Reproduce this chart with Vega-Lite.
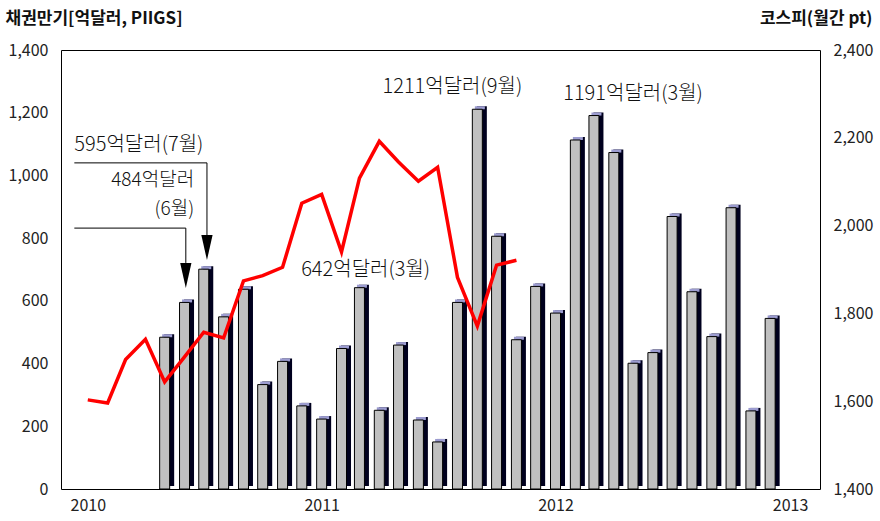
{
  "$schema": "https://vega.github.io/schema/vega-lite/v6.json",
  "autosize": {"type": "none"},
  "width": 759,
  "height": 439,
  "padding": {"left": 61, "top": 50, "right": 60, "bottom": 32},
  "background": "white",
  "config": {
    "view": {"stroke": "black", "strokeWidth": 1},
    "font": "Noto Sans CJK KR",
    "axis": {"grid": false, "ticks": false, "domain": false, "labelFont": "Noto Sans CJK KR", "labelColor": "#222", "titleFont": "Noto Sans CJK KR"}
  },
  "datasets": {
    "bonds": [
      {"month": "2010-05-01", "bond": 484}, {"month": "2010-06-01", "bond": 595}, {"month": "2010-07-01", "bond": 701},
      {"month": "2010-08-01", "bond": 549}, {"month": "2010-09-01", "bond": 637}, {"month": "2010-10-01", "bond": 333},
      {"month": "2010-11-01", "bond": 407}, {"month": "2010-12-01", "bond": 265}, {"month": "2011-01-01", "bond": 223},
      {"month": "2011-02-01", "bond": 448}, {"month": "2011-03-01", "bond": 642}, {"month": "2011-04-01", "bond": 251},
      {"month": "2011-05-01", "bond": 459}, {"month": "2011-06-01", "bond": 220}, {"month": "2011-07-01", "bond": 150},
      {"month": "2011-08-01", "bond": 595}, {"month": "2011-09-01", "bond": 1211}, {"month": "2011-10-01", "bond": 806},
      {"month": "2011-11-01", "bond": 476}, {"month": "2011-12-01", "bond": 646}, {"month": "2012-01-01", "bond": 561},
      {"month": "2012-02-01", "bond": 1113}, {"month": "2012-03-01", "bond": 1191}, {"month": "2012-04-01", "bond": 1073},
      {"month": "2012-05-01", "bond": 401}, {"month": "2012-06-01", "bond": 435}, {"month": "2012-07-01", "bond": 869},
      {"month": "2012-08-01", "bond": 629}, {"month": "2012-09-01", "bond": 486}, {"month": "2012-10-01", "bond": 897},
      {"month": "2012-11-01", "bond": 249}, {"month": "2012-12-01", "bond": 544}
    ],
    "kospi": [
      {"month": "2010-01-01", "kospi": 1603}, {"month": "2010-02-01", "kospi": 1596}, {"month": "2010-03-01", "kospi": 1695},
      {"month": "2010-04-01", "kospi": 1741}, {"month": "2010-05-01", "kospi": 1644}, {"month": "2010-06-01", "kospi": 1701},
      {"month": "2010-07-01", "kospi": 1757}, {"month": "2010-08-01", "kospi": 1744}, {"month": "2010-09-01", "kospi": 1874},
      {"month": "2010-10-01", "kospi": 1886}, {"month": "2010-11-01", "kospi": 1905}, {"month": "2010-12-01", "kospi": 2051},
      {"month": "2011-01-01", "kospi": 2071}, {"month": "2011-02-01", "kospi": 1940}, {"month": "2011-03-01", "kospi": 2108},
      {"month": "2011-04-01", "kospi": 2192}, {"month": "2011-05-01", "kospi": 2145}, {"month": "2011-06-01", "kospi": 2101},
      {"month": "2011-07-01", "kospi": 2133}, {"month": "2011-08-01", "kospi": 1882}, {"month": "2011-09-01", "kospi": 1771},
      {"month": "2011-10-01", "kospi": 1910}, {"month": "2011-11-01", "kospi": 1921}
    ],
    "notes": [
      {"label": "595억달러(7월)", "month": "2009-12-11", "level": 1097, "align": "left"},
      {"label": "484억달러", "month": "2010-06-16", "level": 987, "align": "right"},
      {"label": "(6월)", "month": "2010-06-16", "level": 893, "align": "right"},
      {"label": "642억달러(3월)", "month": "2010-11-30", "level": 698, "align": "left"},
      {"label": "1211억달러(9월)", "month": "2011-04-06", "level": 1283, "align": "left"},
      {"label": "1191억달러(3월)", "month": "2012-01-13", "level": 1261, "align": "left"}
    ],
    "leaders": [
      {"note": "595", "step": 0, "month": "2009-12-11", "level": 1040},
      {"note": "595", "step": 1, "month": "2010-07-06", "level": 1040},
      {"note": "595", "step": 2, "month": "2010-07-06", "level": 810},
      {"note": "484", "step": 0, "month": "2009-12-11", "level": 832},
      {"note": "484", "step": 1, "month": "2010-06-03", "level": 832},
      {"note": "484", "step": 2, "month": "2010-06-03", "level": 721}
    ],
    "arrows": [
      {"note": "595", "month": "2010-07-06", "level": 770},
      {"note": "484", "month": "2010-06-03", "level": 681}
    ]
  },
  "layer": [
    {
      "layer": [
        {
          "data": {"name": "bonds"},
          "mark": {"type": "bar", "width": 10, "xOffset": 4.5, "yOffset": -3, "color": "#00001e"},
          "encoding": {
            "x": {"field": "month", "type": "temporal", "scale": {"type": "utc", "domain": ["2009-11-28", "2013-02-09"], "nice": false},
                  "axis": {"title": null, "format": "%Y", "formatType": "utc", "values": ["2010-01-01", "2011-01-01", "2012-01-01", "2013-01-01"], "labelFontSize": 16, "labelPadding": 8, "labelFlush": false}},
            "y": {"field": "bond", "type": "quantitative", "scale": {"domain": [0, 1400], "nice": false},
                  "axis": {"orient": "left", "values": [0, 200, 400, 600, 800, 1000, 1200, 1400], "format": ",.0f", "labelFontSize": 16, "labelPadding": 13,
                           "title": "채권만기[억달러, PIIGS]", "titleAngle": 0, "titleAlign": "left", "titleBaseline": "middle", "titleX": -56, "titleY": -32, "titleFontSize": 17, "titleFontWeight": "bold", "titleColor": "#111"}}
          }
        },
        {
          "data": {"name": "bonds"},
          "mark": {"type": "bar", "width": 10, "xOffset": 2.5, "yOffset": -3, "color": "#9c9cd0"},
          "encoding": {
            "x": {"field": "month", "type": "temporal"},
            "y": {"field": "bond", "type": "quantitative"},
            "y2": {"field": "bond"}
          }
        },
        {
          "data": {"name": "bonds"},
          "mark": {"type": "bar", "width": 10, "color": "#c0c0c0", "stroke": "black", "strokeWidth": 1},
          "encoding": {
            "x": {"field": "month", "type": "temporal"},
            "y": {"field": "bond", "type": "quantitative"}
          }
        },
        {
          "data": {"name": "leaders"},
          "mark": {"type": "line", "color": "black", "strokeWidth": 1, "interpolate": "linear"},
          "encoding": {
            "x": {"field": "month", "type": "temporal"},
            "y": {"field": "level", "type": "quantitative"},
            "detail": {"field": "note"},
            "order": {"field": "step"}
          }
        },
        {
          "data": {"name": "arrows"},
          "mark": {"type": "point", "shape": "M-0.45,-1L0.45,-1L0,1Z", "size": 625, "filled": true, "color": "black", "opacity": 1},
          "encoding": {
            "x": {"field": "month", "type": "temporal"},
            "y": {"field": "level", "type": "quantitative"}
          }
        },
        {
          "data": {"name": "notes"},
          "transform": [{"filter": "datum.align == 'left'"}],
          "mark": {"type": "text", "align": "left", "baseline": "middle", "fontSize": 20, "font": "Noto Sans CJK KR", "fontWeight": 300, "color": "#111"},
          "encoding": {
            "x": {"field": "month", "type": "temporal"},
            "y": {"field": "level", "type": "quantitative"},
            "text": {"field": "label"}
          }
        },
        {
          "data": {"name": "notes"},
          "transform": [{"filter": "datum.align == 'right'"}],
          "mark": {"type": "text", "align": "right", "baseline": "middle", "fontSize": 19, "font": "Noto Sans CJK KR", "fontWeight": 300, "color": "#111"},
          "encoding": {
            "x": {"field": "month", "type": "temporal"},
            "y": {"field": "level", "type": "quantitative"},
            "text": {"field": "label"}
          }
        }
      ]
    },
    {
      "data": {"name": "kospi"},
      "mark": {"type": "line", "color": "#ff0000", "strokeWidth": 3.5, "strokeJoin": "miter"},
      "encoding": {
        "x": {"field": "month", "type": "temporal"},
        "y": {"field": "kospi", "type": "quantitative", "scale": {"domain": [1400, 2400], "nice": false, "zero": false},
              "axis": {"orient": "right", "values": [1400, 1600, 1800, 2000, 2200, 2400], "format": ",.0f", "labelFontSize": 16, "labelPadding": 13,
                       "title": "코스피(월간 pt)", "titleAngle": 0, "titleAlign": "right", "titleBaseline": "middle", "titleX": 52, "titleY": -32, "titleFontSize": 17, "titleFontWeight": "bold", "titleColor": "#111"}}
      }
    }
  ],
  "resolve": {"scale": {"y": "independent"}}
}
